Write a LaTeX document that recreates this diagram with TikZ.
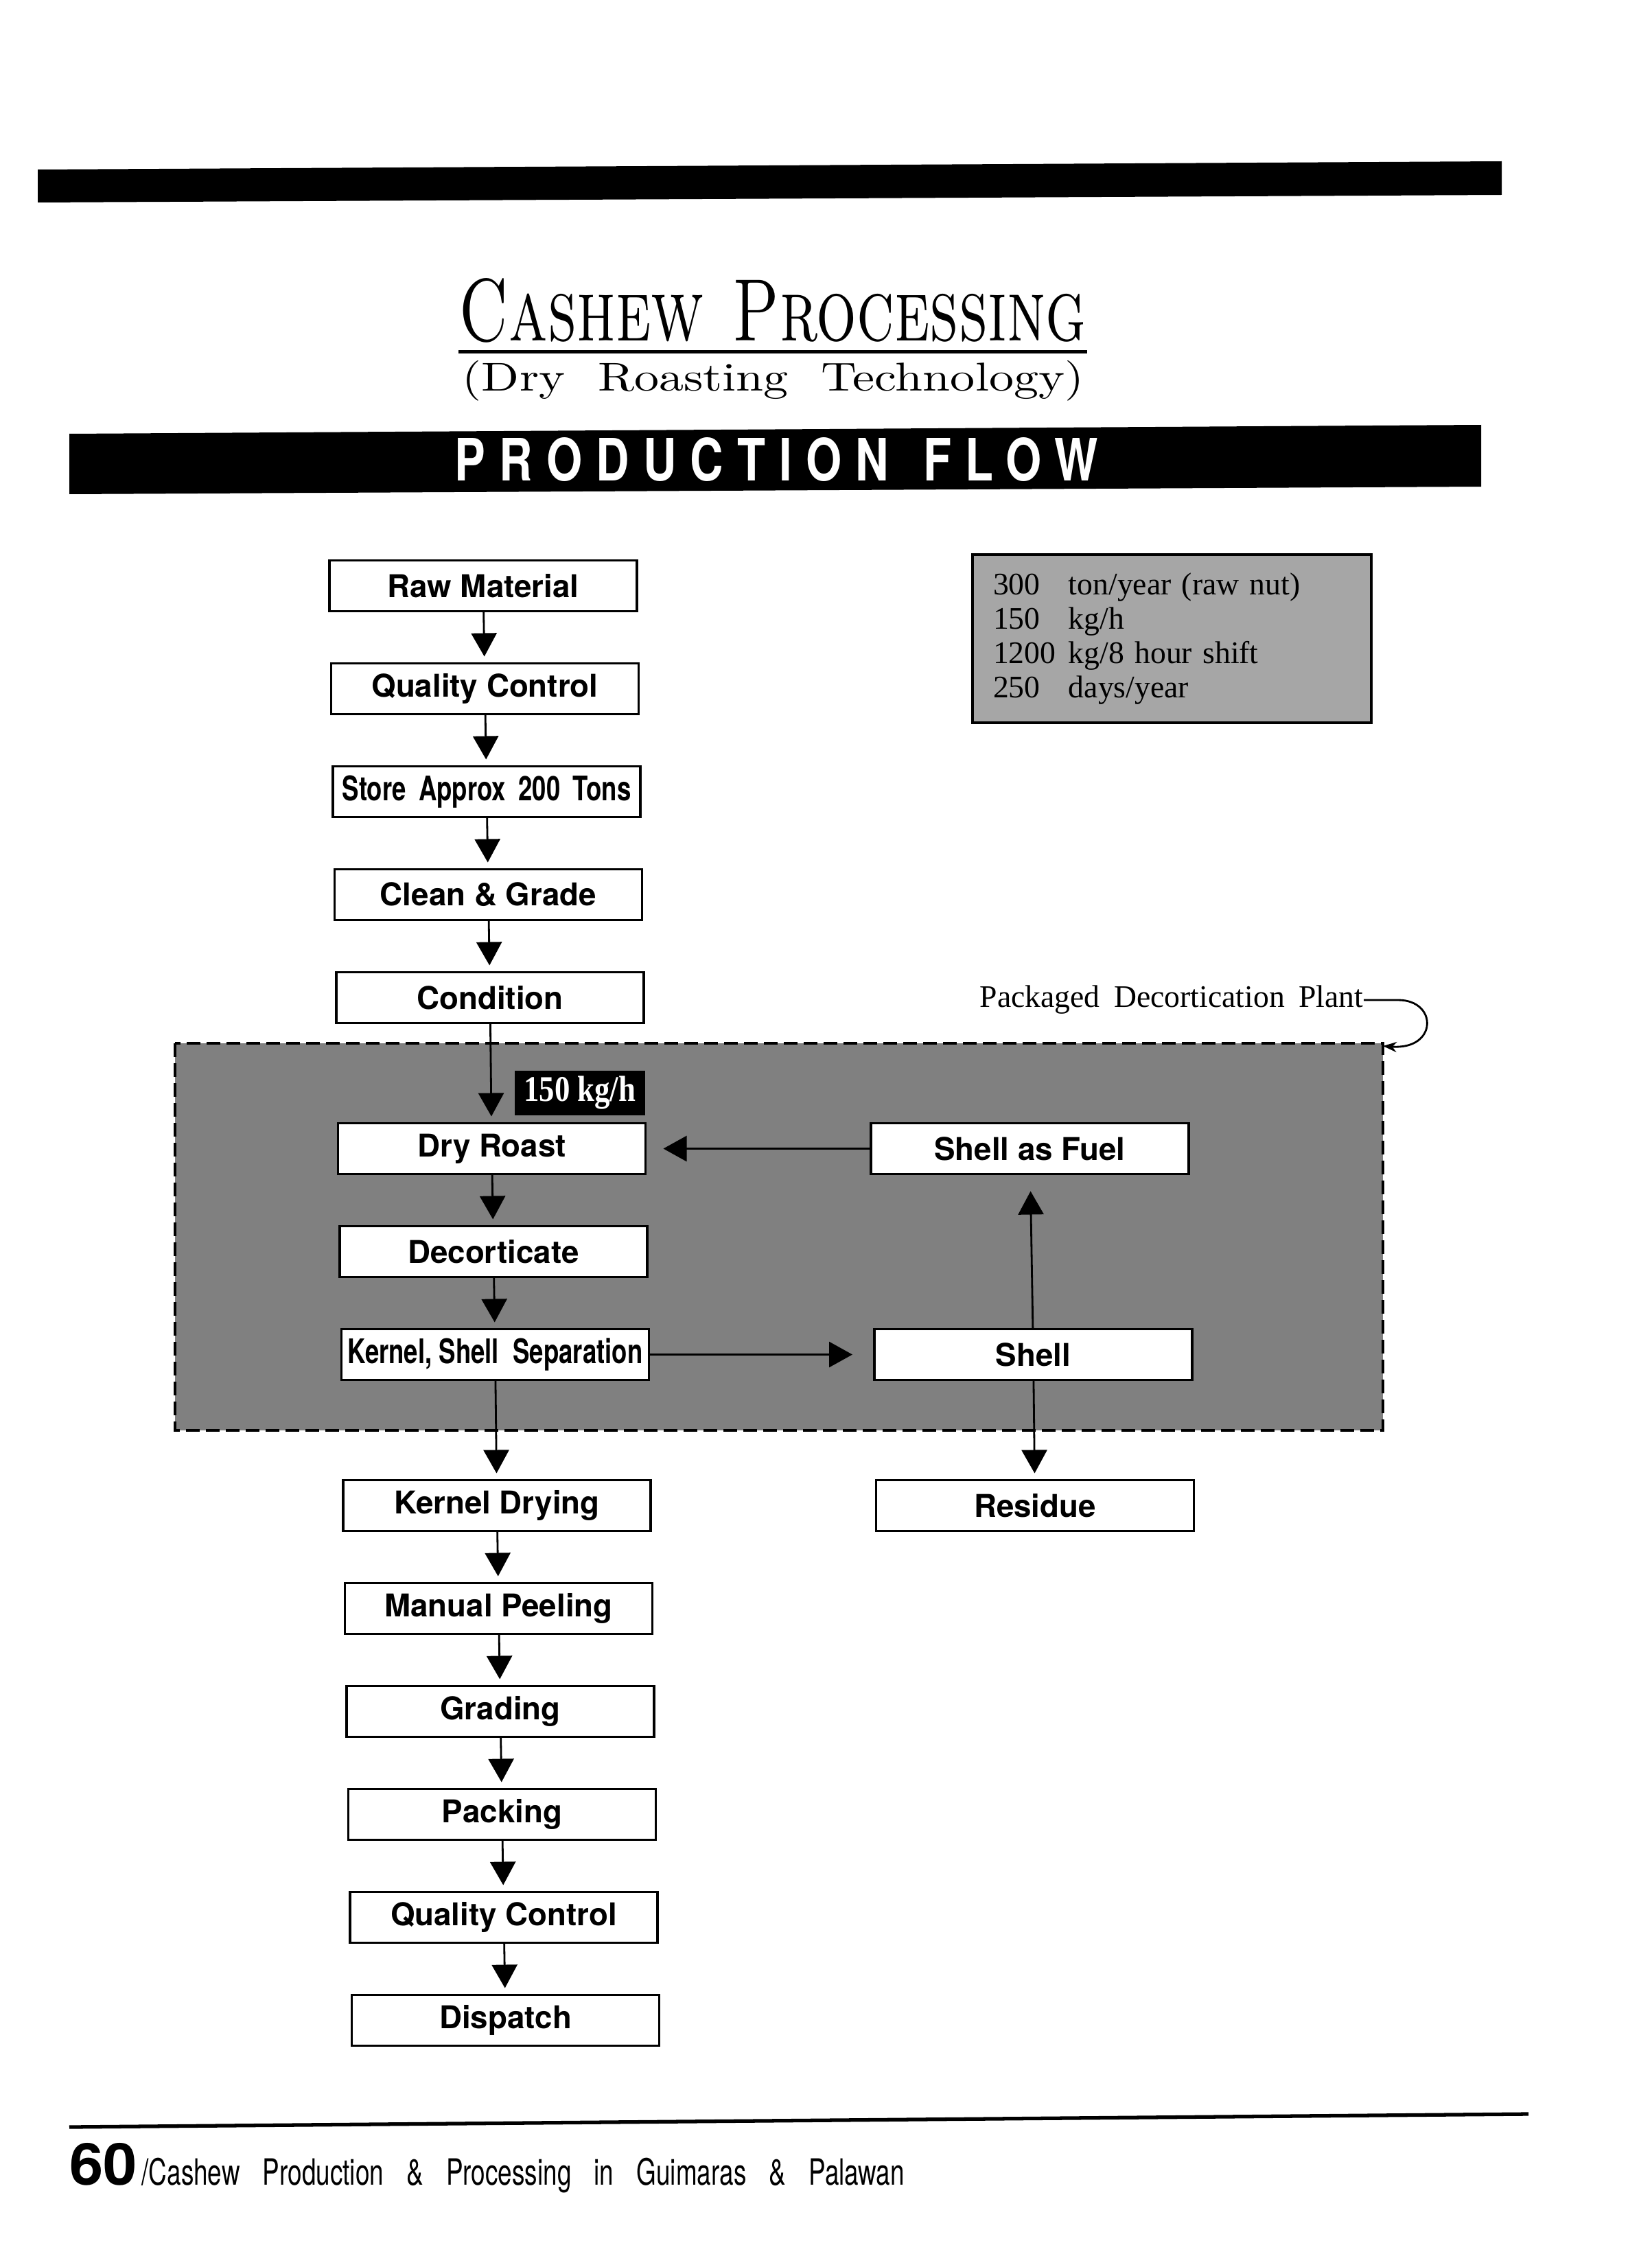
\documentclass[tikz,border=0pt]{standalone}
\usepackage{fontspec}
\newfontfamily\boxfont{TeX Gyre Heros}
\newfontfamily\printfont{Liberation Serif}
\usetikzlibrary{arrows.meta, positioning}
\newcommand{\narrowtext}[1]{\scalebox{0.8}[1.08]{#1}}
\tikzset{
  >={Triangle[width=3.7mm,length=3.4mm]}, % big filled heads as in the print
  node distance=0.76cm, % gap between two steps of the flow
  flow/.style={draw, line width=1pt, fill=white, minimum width=4.48cm,
    minimum height=0.74cm, inner sep=0pt, outer sep=0pt, xshift=0.25mm,
    font=\boxfont\bfseries\fontsize{13}{15}\selectfont}, % one step box
  side/.style={flow, minimum width=4.63cm}, % boxes of the shell branch
  link/.style={->, line width=0.8pt, shorten >=1mm}, % arrow between steps
}

\begin{document}
\begin{tikzpicture}[plant/.style={fill=black!50, line width=1.2pt, dash pattern=on 2mm off 0.9mm}]
    \useasboundingbox (0,0) rectangle (24.06,-33);

    \fill (0.55,-2.47) -- (21.88,-2.35) -- (21.88,-2.84) -- (0.55,-2.95) -- cycle;
    \node[anchor=base, inner sep=0pt] (title) at (11.26,-4.97)
    {\resizebox{9.14cm}{0.91cm}{\textsc{Cashew}\hspace{0.45em}\textsc{Processing}}};
    \draw[line width=1.2pt] ([yshift=-1.2mm]title.south west) -- ([yshift=-1.2mm]title.south east);
    \node[anchor=base, inner sep=0pt] (subtitle) at (11.265,-5.70)
    {\resizebox{9.05cm}{0.44cm}{(Dry\ \ Roasting\ \ Technology)}};
    \fill (1.01,-6.32) -- (21.58,-6.19) -- (21.58,-7.09) -- (1.01,-7.20) -- cycle;
    \node[text=white, inner sep=0pt] (flow_head) at (11.315,-6.695)
    {\resizebox{9.37cm}{0.63cm}{\boxfont\bfseries\addfontfeatures{LetterSpace=30}PRODUCTION\hspace{0.75em}FLOW}};

    \node[draw, line width=1pt, fill=black!35, text width=5.21cm, inner xsep=3mm,
      minimum height=2.45cm, align=left, font=\printfont\fontsize{13}{14.2}\selectfont]
    (spec) at (17.075,-9.305) {\makebox[1.1cm][l]{300}ton/year (raw nut)\\
      \makebox[1.1cm][l]{150}kg/h\\ \makebox[1.1cm][l]{1200}kg/8 hour shift\\
    \makebox[1.1cm][l]{250}days/year};

    \draw[plant] (2.55,-15.20) rectangle (20.15,-20.84);

    \node[flow] (raw_mat) at (7.015,-8.535) {Raw Material};
    \node[flow, below=of raw_mat] (qc_1) {Quality Control};
    \node[flow, below=of qc_1] (store) {\narrowtext{Store\hspace{0.5em}Approx\hspace{0.5em}200\hspace{0.5em}Tons}};
    \node[flow, below=of store] (clean) {Clean \& Grade};
    \node[flow, below=of clean] (condition) {Condition};
    \node[flow, below=1.46cm of condition] (dry_roast) {Dry Roast};
    \node[flow, below=of dry_roast] (decort) {Decorticate};
    \node[flow, below=of decort] (separation) {\narrowtext{Kernel,\ Shell\ \ Separation}};
    \node[flow, below=1.46cm of separation] (kernel_dry) {Kernel Drying};
    \node[flow, below=of kernel_dry] (peeling) {Manual Peeling};
    \node[flow, below=of peeling] (grading) {Grading};
    \node[flow, below=of grading] (packing) {Packing};
    \node[flow, below=of packing] (qc_2) {Quality Control};
    \node[flow, below=of qc_2] (dispatch) {Dispatch};
    \node[side, right=3.26cm of dry_roast] (fuel) {Shell as Fuel};
    \node[side, right=3.26cm of separation] (shell) {Shell};
    \node[side, below=1.46cm of shell] (residue) {Residue};

    \node[fill=black, text=white, inner sep=0pt, minimum width=1.9cm, minimum height=0.65cm,
      font=\printfont\bfseries\fontsize{15}{15}\selectfont,
    above left=1.1mm and 0mm of dry_roast.north east] (rate_tag) {\scalebox{0.85}[1]{150 kg/h}};

    \node[anchor=west, inner sep=0pt, font=\printfont\fontsize{13}{13}\selectfont]
    (plant_note) at (14.27,-14.57) {Packaged\hspace{0.45em}Decortication\hspace{0.45em}Plant};
    \coordinate (plant_corner) at (20.15,-15.24);
    \draw[-{Stealth[length=2mm]}, line width=0.8pt] (plant_note.east) -- ++(0.5,0)
    .. controls (20.95,-14.57) and (20.95,-15.3) .. (plant_corner);

    \draw[link]
    (raw_mat) edge (qc_1) (qc_1) edge (store) (store) edge (clean)
    (clean) edge (condition) (condition) edge (dry_roast)
    (dry_roast) edge (decort) (decort) edge (separation)
    (separation) edge (kernel_dry) (kernel_dry) edge (peeling)
    (peeling) edge (grading) (grading) edge (packing)
    (packing) edge (qc_2) (qc_2) edge (dispatch)
    (fuel) edge[shorten >=2.6mm] (dry_roast)
    (separation) edge[shorten >=3.2mm] (shell)
    (shell) edge[shorten >=2.5mm] (fuel)
    (shell) edge (residue)
    ;

    \draw[line width=1.5pt] (1.01,-30.99) -- (22.27,-30.80);
    \node[anchor=base west, inner sep=0pt, font=\boxfont\bfseries\fontsize{24}{24}\selectfont]
    (page_no) at (1.01,-31.83) {\scalebox{1.05}[1]{60}};
    \node[anchor=base west, inner sep=0pt, font=\boxfont\fontsize{15}{15}\selectfont]
    (book_title) at ([xshift=0.5mm]page_no.base east)
    {\scalebox{0.7}[1]{/Cashew\hspace{0.9em}Production\hspace{0.9em}\&\hspace{0.9em}Processing\hspace{0.9em}in\hspace{0.9em}Guimaras\hspace{0.9em}\&\hspace{0.9em}Palawan}};
  \end{tikzpicture}
\end{document}
